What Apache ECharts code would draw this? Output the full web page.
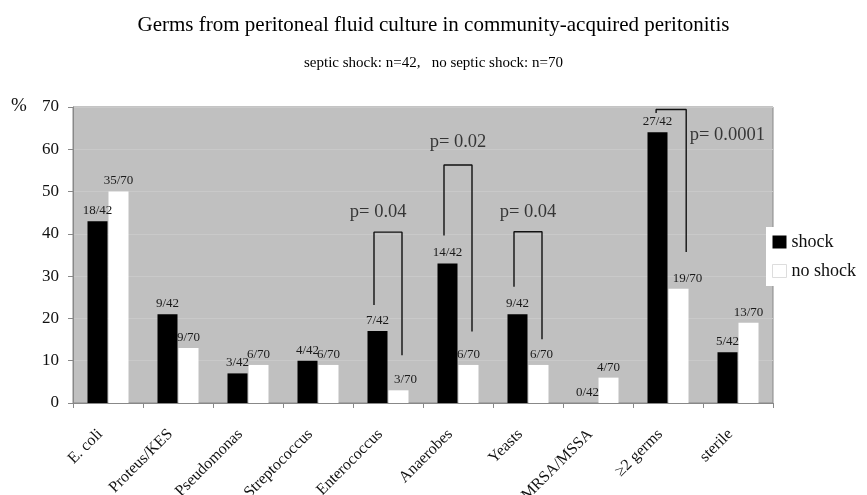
<!DOCTYPE html>
<html>
<head>
<meta charset="utf-8">
<script src="https://cdn.jsdelivr.net/npm/echarts@6/dist/echarts.min.js"></script>
<style>html,body{margin:0;padding:0;background:#fff}#c{width:867px;height:495px}</style>
</head>
<body>
<div id="c"></div>
<script>
var categories = ['E. coli','Proteus/KES','Pseudomonas','Streptococcus','Enterococcus','Anaerobes','Yeasts','MRSA/MSSA','\u22652 germs','sterile'];
var shockPct   = [43, 21, 7, 10, 17, 33, 21, 0, 64, 12];
var noShockPct = [50, 13, 9, 9, 3, 9, 9, 6, 27, 19];
var shockCounts   = [18, 9, 3, 4, 7, 14, 9, 0, 27, 5];
var noShockCounts = [35, 9, 6, 6, 3, 6, 6, 4, 19, 13];
var shockN = 42, noShockN = 70;
var yTicks = [0, 10, 20, 30, 40, 50, 60, 70];
// significance annotations: category index, p label, left leg bottom, right leg bottom, bracket top (%)
var pCats    = [4, 5, 6, 8];
var pLabels  = ['p= 0.04', 'p= 0.02', 'p= 0.04', 'p= 0.0001'];
var pLeftBot = [23.2, 39.6, 27.5, 68.6];
var pRightBot= [11.3, 16.9, 15.1, 35.7];
var pTop     = [40.4, 56.3, 40.5, 69.4];
var pTextY   = [45.2, 61.7, 45.2, 63.4];

var serif = 'Liberation Serif, Times New Roman, serif';
var chart = echarts.init(document.getElementById('c'));

// small horizontal nudges of a few value labels (style only)
var noShockLabelDx = {4: 7, 6: 3, 8: 9};

var series = [
  {
    name: 'shock', type: 'bar', barWidth: 20, barGap: '5%',
    itemStyle: {color: '#000'},
    data: shockPct,
    label: {show: true, position: 'top', distance: 4, fontFamily: serif, fontSize: 13, color: '#1a1a1a',
      formatter: function(p){ return shockCounts[p.dataIndex] + '/' + shockN; }}
  },
  {
    name: 'no shock', type: 'bar', barWidth: 20,
    itemStyle: {color: '#fff'},
    data: noShockPct.map(function(v, i){
      return noShockLabelDx[i] ? {value: v, label: {offset: [noShockLabelDx[i], 0]}} : v;
    }),
    label: {show: true, position: 'top', distance: 4, fontFamily: serif, fontSize: 13, color: '#1a1a1a',
      formatter: function(p){ return noShockCounts[p.dataIndex] + '/' + noShockN; }}
  }
];

pCats.forEach(function(c, k){
  var xl = c + 0.30, xr = c + 0.70;
  if (c === 8) { xl = c + 0.33; xr = c + 0.76; }
  series.push({
    type: 'line', xAxisIndex: 1, yAxisIndex: 0, symbol: 'none', silent: true,
    lineStyle: {color: '#111', width: 1.4}, z: 5,
    data: [[xl, pLeftBot[k]], [xl, pTop[k]], [xr, pTop[k]], [xr, pRightBot[k]]]
  });
  var tx = c === 8 ? c + 0.81 : (c === 4 ? c + 0.36 : (xl + xr) / 2);
  series.push({
    type: 'scatter', xAxisIndex: 1, yAxisIndex: 0, symbolSize: 0, silent: true, z: 6,
    data: [[tx, pTextY[k]]],
    label: {show: true, position: 'inside', formatter: pLabels[k], fontFamily: serif, fontSize: 18.5, color: '#111',
      align: c === 8 ? 'left' : 'center', verticalAlign: 'middle'}
  });
});

chart.setOption({
  animation: false,
  backgroundColor: '#fff',
  title: [
    {text: 'Germs from peritoneal fluid culture in community-acquired peritonitis', left: 'center', top: 10,
      textStyle: {fontFamily: serif, fontSize: 21, fontWeight: 'normal', color: '#000'}},
    {text: 'septic shock: n=42,   no septic shock: n=70', left: 'center', top: 51,
      textStyle: {fontFamily: serif, fontSize: 15, fontWeight: 'normal', color: '#000'}}
  ],
  graphic: [{type: 'text', left: 11, top: 97, style: {text: '%', font: '19px ' + serif, fill: '#111'}}],
  legend: {
    orient: 'vertical', left: 766, top: 227, backgroundColor: '#fff',
    padding: [6, 6, 6, 6], itemGap: 11, itemWidth: 14, itemHeight: 13, icon: 'rect',
    textStyle: {fontFamily: serif, fontSize: 18, color: '#111'},
    data: [
      {name: 'shock', itemStyle: {color: '#000'}},
      {name: 'no shock', itemStyle: {color: '#fff', borderColor: '#ddd', borderWidth: 1}}
    ]
  },
  grid: {left: 73, right: 94, top: 107, bottom: 92, show: true, backgroundColor: '#c0c0c0',
    borderColor: '#888', borderWidth: 1, containLabel: false, outerBoundsMode: 'none'},
  xAxis: [
    {type: 'category', data: categories,
      axisLine: {lineStyle: {color: '#888'}},
      axisTick: {show: true, length: 5, lineStyle: {color: '#888'}},
      axisLabel: {rotate: 45, margin: 21, padding: [0, 11, 0, 0], fontFamily: serif, fontSize: 16, color: '#111', interval: 0}},
    {type: 'value', min: 0, max: 10, show: false}
  ],
  yAxis: {type: 'value', min: 0, max: 70, interval: 10,
    axisLine: {show: true, lineStyle: {color: '#888'}},
    axisTick: {show: true, length: 5, lineStyle: {color: '#888'}},
    axisLabel: {fontFamily: serif, fontSize: 17, color: '#111', margin: 14},
    splitLine: {lineStyle: {color: '#c9c9c9'}}
  },
  series: series
});
</script>
</body>
</html>
